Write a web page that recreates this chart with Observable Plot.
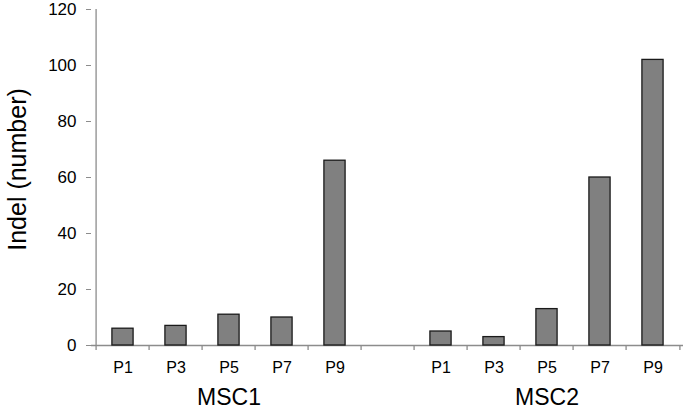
<!DOCTYPE html>
<html>
<head>
<meta charset="utf-8">
<script src="https://cdn.jsdelivr.net/npm/d3@7"></script>
<script src="https://cdn.jsdelivr.net/npm/@observablehq/plot@0.6"></script>
<style>
  html, body { margin: 0; padding: 0; background: #fff; }
  #chart svg { display: block; }
</style>
</head>
<body>
<div id="chart"></div>
<script>
const groups = ["MSC1", "MSC2"];
const passages = ["P1", "P3", "P5", "P7", "P9"];
const msc1Values = [6, 7, 11, 10, 66];
const msc2Values = [5, 3, 13, 60, 102];
const yTicks = [0, 20, 40, 60, 80, 100, 120];
const yLabel = "Indel (number)";

const valuesByGroup = {MSC1: msc1Values, MSC2: msc2Values};
const slots = [];
groups.forEach((g, gi) => {
  if (gi > 0) slots.push("gap" + gi);
  passages.forEach(p => slots.push(g + "-" + p));
});
const data = [];
groups.forEach(g => passages.forEach((p, i) => data.push({slot: g + "-" + p, group: g, passage: p, value: valuesByGroup[g][i]})));
const groupLabels = groups.map(g => ({group: g, slot: g + "-" + passages[Math.floor(passages.length / 2)]}));

const W = 685, H = 409;
const mL = 91, mR = 2, mT = 9, mB = 64;
const bw = (W - mL - mR) / slots.length;
const axisColor = "#8c8c8c";

const chart = Plot.plot({
  width: W,
  height: H,
  marginLeft: mL,
  marginRight: mR,
  marginTop: mT,
  marginBottom: mB,
  style: {fontFamily: "'Liberation Sans', Arial, sans-serif", background: "#fff", color: "#000"},
  x: {type: "band", domain: slots, padding: 0, axis: null},
  y: {domain: [0, 120], axis: null},
  marks: [
    Plot.axisY({ticks: yTicks, tickSize: 5, tickPadding: 10, fontSize: 17, stroke: axisColor, label: null, tickFormat: d => d}),
    Plot.axisX({tickSize: 0, tickPadding: 16, fontSize: 16, label: null, tickFormat: s => s.startsWith("gap") ? "" : s.split("-")[1]}),
    // axis lines
    Plot.ruleY([0], {stroke: axisColor, strokeWidth: 1.3}),
    Plot.ruleX([slots[0]], {x: d => d, y1: 0, y2: 120, dx: -bw / 2, stroke: axisColor, strokeWidth: 1.3}),
    // x boundary ticks (below axis)
    Plot.ruleX(slots, {x: d => d, y1: 0, y2: -1.8, dx: -bw / 2, stroke: axisColor, strokeWidth: 1.3, clip: false}),
    Plot.ruleX([slots[slots.length - 1]], {x: d => d, y1: 0, y2: -1.8, dx: bw / 2, stroke: axisColor, strokeWidth: 1.3, clip: false}),
    Plot.barY(data, {x: "slot", y: "value", fill: "#808080", stroke: "#1a1a1a", strokeWidth: 1.3, insetLeft: (bw - 22) / 2, insetRight: (bw - 22) / 2}),
    Plot.text(groupLabels, {x: "slot", text: "group", frameAnchor: "bottom", lineAnchor: "middle", dy: 52, fontSize: 23, fill: "#000"}),
    Plot.text([yLabel], {text: d => d, frameAnchor: "left", textAnchor: "middle", lineAnchor: "middle", dx: -74, dy: -8, rotate: -90, fontSize: 25, fill: "#000"})
  ]
});
document.getElementById("chart").appendChild(chart);
</script>
</body>
</html>
